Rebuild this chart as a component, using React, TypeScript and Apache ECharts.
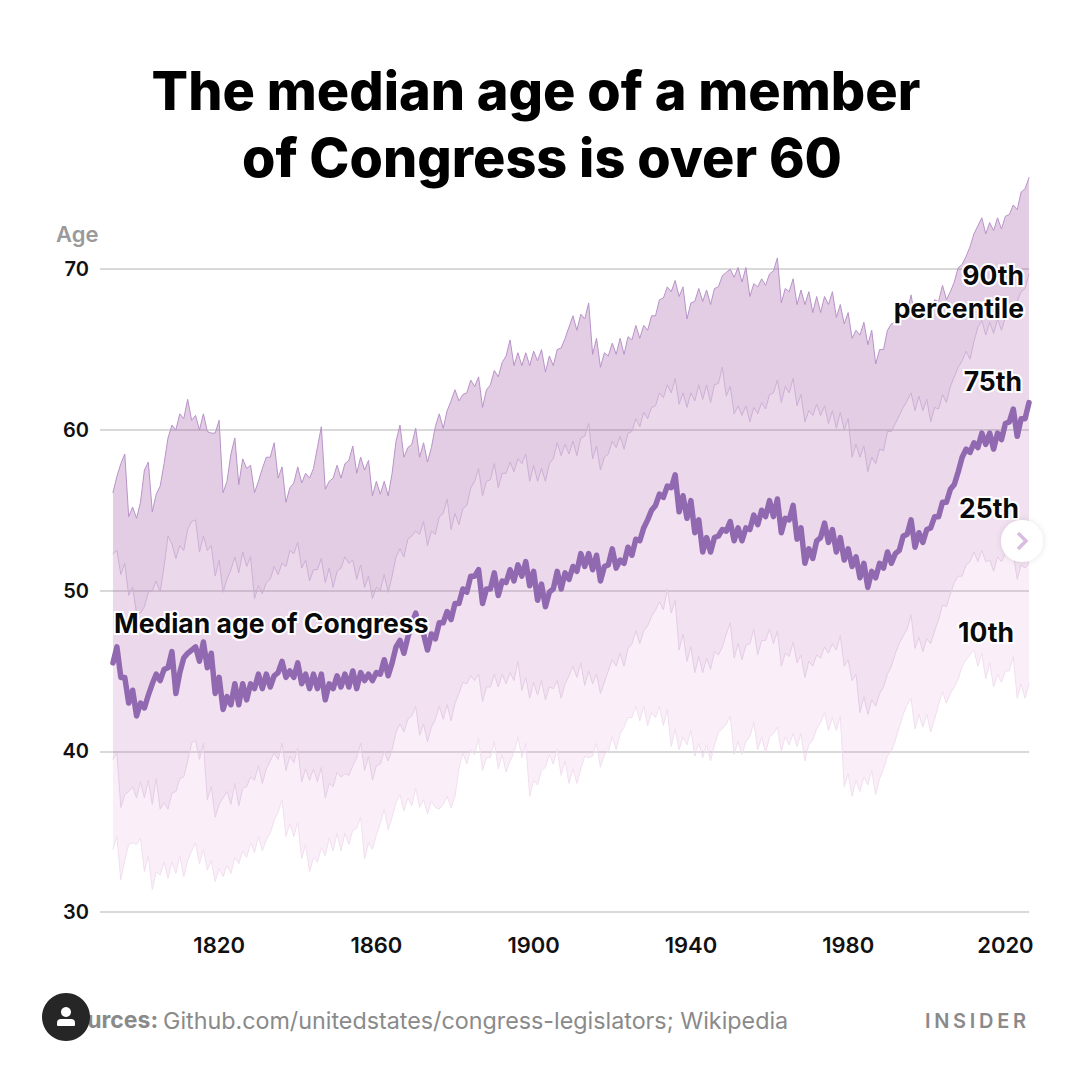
import React, { useEffect, useRef } from "react";
import * as echarts from "echarts";

const p90 = [
56.1,57.1,57.9,58.5,54.6,55.2,54.5,55.5,57.5,58.0,
54.9,56.0,56.5,57.9,59.5,60.3,60.0,61.0,60.7,61.9,
60.6,60.9,60.0,61.0,59.9,59.8,59.8,60.6,56.1,56.8,
58.5,59.5,56.6,58.2,57.6,57.8,56.1,56.8,57.6,58.3,
58.3,59.2,57.0,57.7,55.5,56.4,56.7,57.7,56.7,57.3,
57.0,57.6,58.9,60.2,56.3,56.8,57.0,57.8,57.0,57.9,
58.1,59.0,57.3,58.3,57.5,58.1,55.9,56.8,56.0,56.8,
55.9,57.3,59.3,60.3,58.3,58.9,59.1,60.1,58.3,59.2,
58.0,58.9,60.2,61.0,60.1,61.2,61.8,62.5,61.8,62.2,
62.3,63.1,62.7,63.3,61.4,62.5,62.8,63.7,63.3,64.2,
64.6,65.6,64.0,64.8,64.0,64.8,64.0,64.9,64.3,65.0,
63.6,64.6,64.0,65.0,65.1,65.7,66.4,67.1,66.2,67.2,
66.9,67.9,64.7,65.7,63.9,64.8,64.6,65.4,64.7,65.7,
64.7,65.8,65.6,66.5,65.7,66.5,66.2,67.1,67.1,68.1,
68.2,68.9,68.6,69.3,68.3,68.9,66.9,67.9,68.0,68.8,
68.0,68.7,67.8,68.8,68.9,69.6,69.8,70.0,69.5,70.1,
69.2,70.1,68.3,69.1,68.9,69.4,69.0,69.7,69.9,70.7,
67.9,68.8,68.6,69.4,67.8,68.7,67.8,68.6,67.3,68.3,
67.3,68.3,67.8,68.6,67.0,67.8,66.6,67.3,65.7,66.2,
65.9,66.7,65.3,66.2,64.1,65.0,65.0,66.2,66.6,66.7,
66.9,67.0,67.3,68.4,67.0,67.2,67.3,67.5,67.4,68.1,
68.0,69.0,68.1,68.6,69.2,70.1,70.3,70.8,71.4,72.2,
72.7,73.2,72.2,72.9,72.4,73.2,72.5,73.3,73.4,74.0,
73.7,74.8,75.0,75.7];

const p75 = [
52.3,52.5,51.0,51.7,49.7,50.2,48.6,48.6,49.0,49.9,
50.0,50.6,49.9,51.5,53.4,52.9,52.0,52.8,52.5,53.8,
54.3,54.4,52.4,53.4,52.5,52.8,50.9,51.9,49.9,50.7,
51.3,52.1,51.1,52.4,51.5,52.1,49.5,50.3,49.8,50.5,
50.7,51.5,51.0,51.7,51.5,52.5,52.3,53.0,51.4,51.9,
50.6,51.3,51.3,52.0,50.5,51.4,50.2,51.2,51.4,52.1,
51.7,51.9,50.7,51.6,50.2,50.9,49.5,50.2,50.0,51.0,
49.9,50.9,52.1,52.6,52.1,53.2,53.4,53.7,53.5,54.3,
52.8,53.7,53.5,54.6,54.8,55.7,53.8,54.8,54.1,55.1,
55.3,56.4,56.8,57.6,55.9,56.8,56.9,57.9,56.4,57.3,
57.3,58.0,57.4,58.2,57.9,58.5,56.8,57.8,56.8,57.6,
56.8,57.9,58.2,59.2,58.4,59.1,58.5,59.3,58.4,59.5,
59.6,60.4,58.2,59.0,57.5,58.3,58.5,59.3,58.9,59.6,
58.8,59.8,59.9,60.7,60.2,61.1,60.7,61.4,61.5,62.3,
62.0,62.8,62.3,63.2,61.6,62.3,61.4,62.3,61.8,62.8,
61.9,62.8,61.7,62.8,62.9,63.9,62.1,62.7,61.0,61.5,
60.9,61.5,60.5,61.4,61.0,61.7,61.3,62.2,62.3,63.1,
61.7,62.7,62.3,63.2,61.5,62.2,60.5,61.2,60.9,61.6,
60.9,61.5,60.4,61.2,60.1,61.1,60.0,60.7,58.3,59.1,
58.3,59.0,57.4,58.3,57.9,58.8,58.7,59.9,59.9,60.4,
60.9,61.4,61.8,62.3,61.2,62.1,61.2,61.9,60.5,61.4,
61.3,62.2,61.7,62.7,63.3,63.9,64.3,64.9,64.4,65.5,
66.4,66.8,65.9,66.7,66.0,66.9,66.2,67.0,67.4,67.9,
68.0,68.6,68.8,69.7];

const median = [
45.5,46.5,44.6,44.6,43.0,43.8,42.2,43.0,42.7,43.5,
44.2,44.8,44.4,45.1,45.2,46.2,43.6,44.9,45.8,46.1,
46.3,46.5,45.6,46.8,45.2,46.1,43.6,44.6,42.6,43.4,
42.9,44.2,42.9,44.2,43.2,44.2,43.9,44.8,43.9,44.8,
44.0,44.7,44.9,45.6,44.6,45.0,44.6,45.5,44.2,44.8,
43.9,44.8,43.9,44.8,43.2,44.2,43.9,44.7,44.0,44.8,
44.0,45.0,43.9,44.9,44.4,44.8,44.4,44.9,44.8,45.7,
44.7,45.5,46.5,46.9,46.1,47.1,47.9,48.6,47.5,47.3,
46.3,47.3,47.0,48.0,48.0,48.7,48.2,49.2,49.2,50.1,
49.9,50.9,50.9,51.3,49.2,50.1,50.1,51.1,49.7,50.6,
50.5,51.3,50.6,51.6,50.9,51.8,50.3,51.2,49.4,50.4,
49.0,49.9,50.1,51.2,50.1,51.1,50.7,51.5,51.2,52.3,
51.5,52.3,51.3,52.2,50.6,51.5,51.6,52.6,51.4,51.9,
51.7,52.7,52.2,53.2,53.1,53.9,54.4,55.0,55.3,56.0,
55.8,56.5,56.4,57.2,54.9,55.9,54.5,55.6,53.6,54.4,
52.4,53.3,52.4,53.3,53.4,53.8,53.7,54.3,53.1,53.9,
53.1,53.9,53.8,54.7,54.1,55.0,54.6,55.6,54.6,55.7,
53.6,54.5,54.4,55.3,53.2,53.9,51.7,52.6,52.0,53.1,
53.3,54.2,53.0,53.8,52.4,53.3,51.9,52.6,51.5,52.1,
50.8,51.7,50.2,51.2,50.8,51.7,51.4,52.4,51.7,52.3,
52.5,53.4,53.5,54.4,52.7,53.6,53.0,53.8,53.9,54.6,
54.6,55.5,55.5,56.3,56.6,57.4,58.3,58.8,58.6,59.2,
58.9,59.8,59.1,59.8,58.8,59.8,59.4,60.4,60.5,61.3,
59.6,60.7,60.7,61.7];

const p25 = [
39.5,39.9,36.5,37.3,37.5,37.8,37.1,38.1,37.1,38.2,
36.7,38.3,36.4,36.8,36.4,37.4,37.5,38.3,38.4,39.4,
40.5,40.7,39.5,40.5,37.0,37.8,35.9,36.7,37.1,37.5,
36.7,38.0,36.6,37.7,37.8,38.4,38.2,39.1,38.0,38.9,
39.4,39.9,39.5,40.5,38.8,39.7,39.3,40.2,38.1,38.9,
38.2,38.9,38.1,39.0,37.1,38.0,37.8,38.7,38.4,38.6,
38.5,39.1,39.6,40.5,38.8,39.7,38.2,39.1,39.2,40.0,
39.4,40.1,41.2,41.7,41.2,42.0,42.2,42.8,41.0,41.7,
40.6,41.5,42.0,42.8,42.0,42.9,41.9,43.0,43.6,44.3,
44.2,44.7,44.4,44.8,43.1,44.0,44.0,44.8,44.0,44.8,
44.2,44.9,44.4,45.6,43.8,44.6,43.3,44.3,43.5,44.4,
43.2,44.0,43.9,44.4,43.3,44.2,44.7,45.3,44.6,45.5,
44.1,45.0,44.2,44.8,43.6,44.3,45.0,45.7,45.3,46.1,
45.3,46.4,46.7,47.5,46.7,47.5,47.8,48.4,48.8,49.3,
48.8,50.1,48.6,49.4,46.3,47.3,45.6,46.5,44.9,45.9,
44.9,45.8,45.1,46.2,46.0,46.5,47.3,48.0,45.8,46.7,
45.7,46.6,46.7,47.6,46.0,46.9,46.9,47.6,46.7,47.5,
45.3,46.1,45.9,46.8,45.5,46.0,44.6,45.6,45.3,46.0,
45.8,46.5,46.1,46.7,46.3,47.2,45.3,45.7,44.4,44.8,
42.4,43.4,42.3,43.2,42.8,43.6,44.0,44.8,45.3,46.1,
46.7,47.2,47.6,48.5,46.4,47.1,46.2,47.0,46.7,47.5,
48.2,49.1,49.0,49.8,50.5,50.9,50.9,51.6,51.8,52.4,
51.8,52.5,51.8,51.9,51.2,52.1,51.8,52.3,52.5,52.3,
50.7,51.6,51.4,51.7];

const p10 = [
33.9,34.7,32.0,33.2,34.2,34.3,34.2,34.6,32.5,33.5,
31.4,32.5,32.3,33.1,32.1,33.1,32.4,33.5,32.2,33.2,
33.8,34.3,33.0,33.9,32.6,33.2,31.9,32.7,32.2,32.9,
32.4,33.4,33.0,33.8,33.4,34.3,33.7,34.7,33.8,34.5,
34.9,35.7,36.2,37.0,34.7,35.5,34.7,35.6,33.3,34.2,
32.5,33.4,33.1,34.0,33.5,34.6,33.8,34.9,33.8,34.9,
34.2,35.1,35.2,35.9,33.3,34.3,33.9,34.8,35.5,36.4,
35.1,35.9,36.8,37.3,36.3,37.1,36.6,37.7,36.5,37.0,
36.1,36.9,36.5,36.4,36.7,37.2,36.5,37.2,38.9,39.9,
39.2,40.1,39.8,40.8,38.8,39.6,39.6,40.6,38.9,39.8,
38.7,39.4,39.9,40.9,39.6,40.5,37.2,38.2,37.9,38.8,
39.0,39.8,39.2,40.1,38.5,39.4,38.0,38.9,38.0,38.9,
39.7,39.6,39.7,40.5,39.0,39.8,40.0,40.9,40.1,41.1,
41.5,42.1,42.1,42.8,41.9,42.8,41.6,42.4,42.1,42.8,
41.6,42.6,40.3,41.4,40.1,40.9,40.4,41.3,39.7,40.5,
39.6,40.4,39.4,40.4,41.2,41.4,41.7,42.2,39.8,40.6,
39.8,40.6,40.9,41.8,40.1,40.9,39.9,40.9,41.1,41.5,
40.0,40.9,40.4,41.1,40.3,41.1,39.4,40.4,40.7,41.4,
41.8,42.4,41.3,42.1,41.3,42.2,37.8,38.6,37.2,38.2,
37.5,38.4,37.9,38.8,37.3,38.3,38.9,39.7,40.0,40.7,
41.5,42.3,42.9,43.3,41.4,42.3,41.5,42.3,41.2,42.0,
42.9,43.7,43.0,43.6,44.0,44.5,45.3,45.7,46.0,46.3,
45.3,46.1,44.5,45.5,44.0,44.8,44.3,45.0,45.0,45.9,
43.3,44.2,43.3,44.2];

const firstYear = 1793;
const years = p90.map((_, i) => firstYear + i);
const xTicks = [1820, 1860, 1900, 1940, 1980, 2020];
const titleLines = ["The median age of a member", "of Congress is over 60"];
const sourceLabel = "Sources:";
const sourceText = "Github.com/unitedstates/congress-legislators; Wikipedia";

const FONT = "Inter, 'Noto Sans', sans-serif";

const pts = (v: number[]) => v.map((y, i) => [years[i], y]);

const bandSeries = (name: string, hi: number[], lo: number[], color: string) => ({
  name,
  type: "custom",
  data: pts(hi),
  encode: { x: 0, y: 1 },
  silent: true,
  z: 2,
  renderItem: (params: any, api: any) => {
    if (params.dataIndex !== 0) return null;
    const points: number[][] = [];
    hi.forEach((y, i) => points.push(api.coord([years[i], y])));
    for (let i = lo.length - 1; i >= 0; i--) points.push(api.coord([years[i], lo[i]]));
    return { type: "polygon", shape: { points }, style: { fill: color } };
  },
});
const lineSeries = (name: string, v: number[], color: string, width: number, z = 3) => ({
  name,
  type: "line",
  data: pts(v),
  symbol: "none",
  silent: true,
  lineStyle: { color, width, cap: "round", join: "round" },
  z,
});

const halo = (x: number, y: number, text: string, align: string) => ({
  type: "text",
  x,
  y,
  z: 50,
  style: {
    text,
    fill: "#0a0a0a",
    font: `700 26.5px ${FONT}`,
    align,
    verticalAlign: "middle",
    stroke: "#ffffff",
    lineWidth: 4,
  },
});

export default function App() {
  const ref = useRef<HTMLDivElement>(null);
  useEffect(() => {
    document.body.style.margin = "0";
    const chart = echarts.init(ref.current!, undefined, { renderer: "svg" });
    chart.setOption({
      animation: false,
      backgroundColor: "#ffffff",
      grid: { left: 100, right: 52, top: 108.5, height: 803.5 },
      xAxis: {
        type: "value",
        min: 1789.7,
        max: 2026,
        splitLine: { show: false },
        axisLine: { show: false },
        axisTick: { show: false },
        axisLabel: {
          customValues: xTicks,
          formatter: (v: number) => String(v),
          color: "#111111",
          fontFamily: FONT,
          fontWeight: 600,
          fontSize: 22,
          margin: 22,
        },
      },
      yAxis: {
        type: "value",
        min: 30,
        max: 80,
        interval: 10,
        axisLine: { show: false },
        axisTick: { show: false },
        axisLabel: {
          color: "#111111",
          fontFamily: FONT,
          fontWeight: 600,
          fontSize: 20,
          margin: 11,
          formatter: (v: number) => (v === 80 ? "" : String(v)),
        },
        splitLine: {
          lineStyle: { color: "#d9d9d9", width: 2 },
          showMaxLine: false,
        },
      },
      series: [
        bandSeries("10th-25th", p25, p10, "rgba(222,142,215,0.15)"),
        bandSeries("25th-median", median, p25, "rgba(190,110,185,0.2)"),
        bandSeries("median-75th", p75, median, "rgba(180,99,175,0.25)"),
        bandSeries("75th-90th", p90, p75, "rgba(162,88,168,0.3)"),
        lineSeries("10th percentile", p10, "#f1dfef", 1),
        lineSeries("25th percentile", p25, "#e4cde5", 1),
        lineSeries("75th percentile", p75, "#cdb0d5", 1),
        lineSeries("90th percentile", p90, "#b893c8", 1),
        lineSeries("Median age of Congress", median, "#9169b0", 5.5, 4),
      ],
      graphic: [
        ...titleLines.map((t, i) => ({
          type: "text",
          x: 536 + i * 6,
          y: 90 + i * 67,
          z: 50,
          style: {
            text: t,
            fill: "#000000",
            font: `800 54px ${FONT}`,
            align: "center",
            verticalAlign: "middle",
          },
        })),
        {
          type: "text",
          x: 56,
          y: 234,
          z: 50,
          style: { text: "Age", fill: "#9a9a9a", font: `600 22px ${FONT}`, align: "left", verticalAlign: "middle" },
        },
        halo(114, 623, "Median age of Congress", "left"),
        halo(1024, 275, "90th", "right"),
        halo(1024, 308, "percentile", "right"),
        halo(1022, 381, "75th", "right"),
        halo(1019, 508, "25th", "right"),
        halo(1014, 632, "10th", "right"),
        {
          type: "text",
          x: 58,
          y: 1020,
          z: 50,
          style: { text: sourceLabel, fill: "#8a8a8a", font: `700 23px ${FONT}`, align: "left", verticalAlign: "middle" },
        },
        {
          type: "text",
          x: 163,
          y: 1020,
          z: 50,
          style: { text: sourceText, fill: "#8a8a8a", font: `400 23.3px ${FONT}`, align: "left", verticalAlign: "middle" },
        },
        {
          type: "text",
          x: 925,
          y: 1021,
          z: 50,
          style: { text: "INSIDER", fill: "#8a8a8a", font: `600 20px ${FONT}`, align: "left", verticalAlign: "middle" },
        },
        { type: "circle", z: 60, shape: { cx: 66, cy: 1017, r: 24 }, style: { fill: "#262626" } },
        { type: "circle", z: 61, shape: { cx: 66, cy: 1012, r: 5 }, style: { fill: "#ffffff" } },
        { type: "rect", z: 61, shape: { x: 57, y: 1019, width: 18, height: 7, r: [4, 4, 1, 1] }, style: { fill: "#ffffff" } },
        {
          type: "circle",
          z: 60,
          shape: { cx: 1022, cy: 541, r: 21 },
          style: { fill: "#ffffff", shadowBlur: 6, shadowColor: "rgba(0,0,0,0.12)" },
        },
        {
          type: "polyline",
          z: 61,
          shape: { points: [[1018, 533], [1026, 541], [1018, 549]] },
          style: { stroke: "#d9bde0", lineWidth: 3.5, fill: "none" },
        },
      ],
    });
    ref.current!.querySelectorAll("text").forEach((el) => {
      if (el.textContent === "INSIDER") (el as SVGTextElement).style.letterSpacing = "3.7px";
    });
    return () => chart.dispose();
  }, []);
  return (
    <div
      ref={ref}
      style={{ position: "absolute", left: 0, top: 0, width: 1081, height: 1081 }}
    />
  );
}
